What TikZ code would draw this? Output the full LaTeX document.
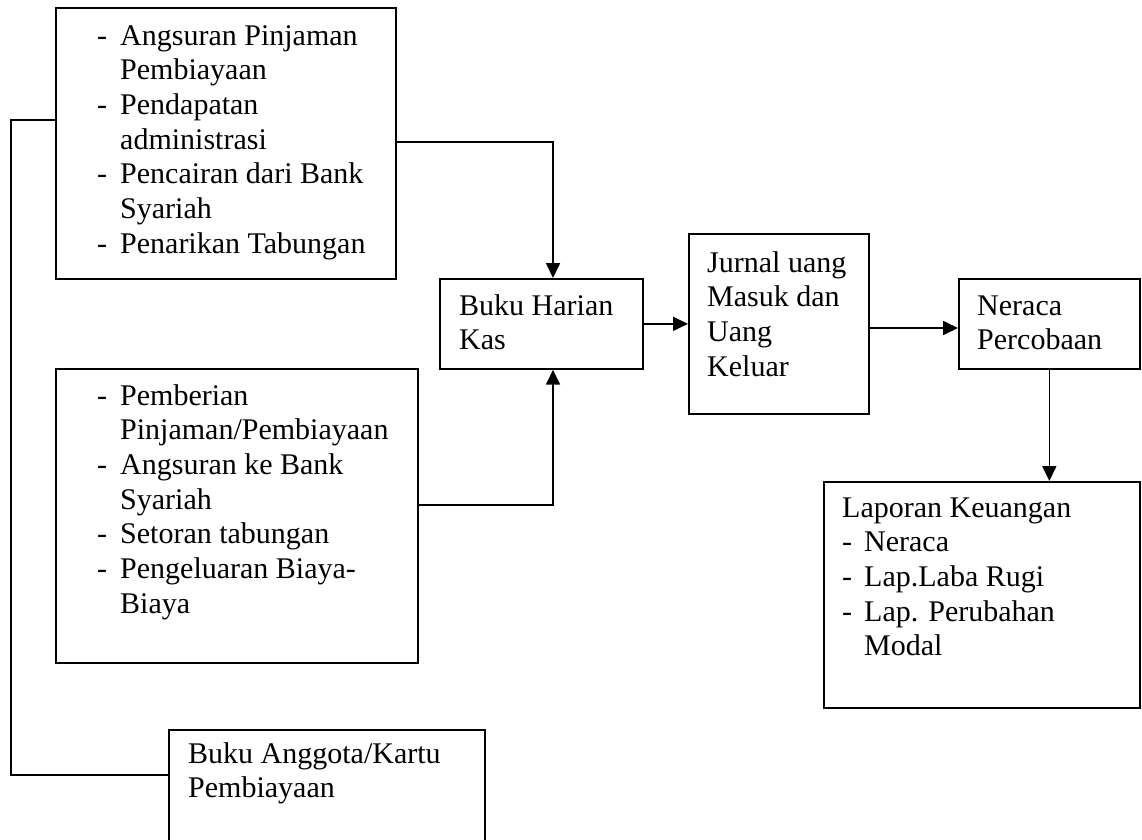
\documentclass[tikz,border=0pt]{standalone}
\usepackage{fontspec}
\setmainfont{Liberation Serif}
\usetikzlibrary{arrows.meta}

% hyphen bullet with a fixed hanging indent
\newcommand{\dashitem}[1][23pt]{\makebox[#1][l]{-}}
\newcommand{\hangpad}[1][23pt]{\hspace*{#1}}

\begin{document}
\begin{tikzpicture}[x=1pt, y=-1pt,
  box/.style={draw, line width=1.7pt, inner sep=0pt, anchor=north west},
  label/.style={inner sep=0pt, anchor=base west,
    font=\fontsize{30}{34.7}\selectfont},
  link/.style={line width=1.7pt},
  arr/.style={link, -{Triangle[length=15pt, width=14pt]}}]

\useasboundingbox (0,0) rectangle (1142,839);
\clip (0,0) rectangle (1142,839);

% boxes
\node[box, minimum width=340pt, minimum height=271pt] (tl) at (55,7) {};
\node[box, minimum width=362pt, minimum height=294pt] (ml) at (55,368) {};
\node[box, minimum width=316pt, minimum height=140pt] (bb) at (168,729) {};
\node[box, minimum width=203pt, minimum height=90pt] (bhk) at (439,278) {};
\node[box, minimum width=180pt, minimum height=180pt] (jur) at (688,233) {};
\node[box, minimum width=181pt, minimum height=90pt] (ner) at (958,278) {};
\node[box, minimum width=316pt, minimum height=226pt] (lap) at (823,481) {};

% box texts
\node[label] (tlt) at (97,45) {\begin{tabular}[t]{@{}l@{}}
  \dashitem Angsuran Pinjaman\\
  \hangpad Pembiayaan\\
  \dashitem Pendapatan\\
  \hangpad administrasi\\
  \dashitem Pencairan dari Bank\\
  \hangpad Syariah\\
  \dashitem Penarikan Tabungan
\end{tabular}};

\node[label] (mlt) at (97,405) {\begin{tabular}[t]{@{}l@{}}
  \dashitem Pemberian\\
  \hangpad Pinjaman/Pembiayaan\\
  \dashitem Angsuran ke Bank\\
  \hangpad Syariah\\
  \dashitem Setoran tabungan\\
  \dashitem Pengeluaran Biaya-\\
  \hangpad Biaya
\end{tabular}};

\node[label] (bbt) at (188,763) {\begin{tabular}[t]{@{}l@{}}
  Buku Anggota/Kartu\\
  Pembiayaan
\end{tabular}};

\node[label] (bhkt) at (459,315) {\begin{tabular}[t]{@{}l@{}}
  Buku Harian\\
  Kas
\end{tabular}};

\node[label] (jurt) at (707,272) {\begin{tabular}[t]{@{}l@{}}
  Jurnal uang\\
  Masuk dan\\
  Uang\\
  Keluar
\end{tabular}};

\node[label] (nert) at (977,315) {\begin{tabular}[t]{@{}l@{}}
  Neraca\\
  Percobaan
\end{tabular}};

\node[label] (lapt) at (842,517) {\begin{tabular}[t]{@{}l@{}}
  Laporan Keuangan\\
  \dashitem[22pt]Neraca\\
  \dashitem[22pt]Lap.Laba Rugi\\
  \dashitem[22pt]Lap. Perubahan\\
  \hangpad[22pt]Modal
\end{tabular}};

% bend points of the connectors
\coordinate (k1) at (553,142);
\coordinate (k2) at (553,505);
\coordinate (k3) at (0,328);
\coordinate (k4) at (11,120);
\coordinate (k5) at (11,775);

% connectors
\draw[arr] (tl.east |- k1) -- (k1) -- (bhk.north -| k1);
\draw[arr] (ml.east |- k2) -- (k2) -- (bhk.south -| k2);
\draw[arr] (bhk.east) -- (jur.west);
\draw[arr] (jur.east |- k3) -- (ner.west |- k3);
\draw[arr] (ner.south) -- (lap.north -| ner.south);
\draw[link] (tl.west |- k4) -- (k4) -- (k5) -- (bb.west |- k5);

\end{tikzpicture}
\end{document}
